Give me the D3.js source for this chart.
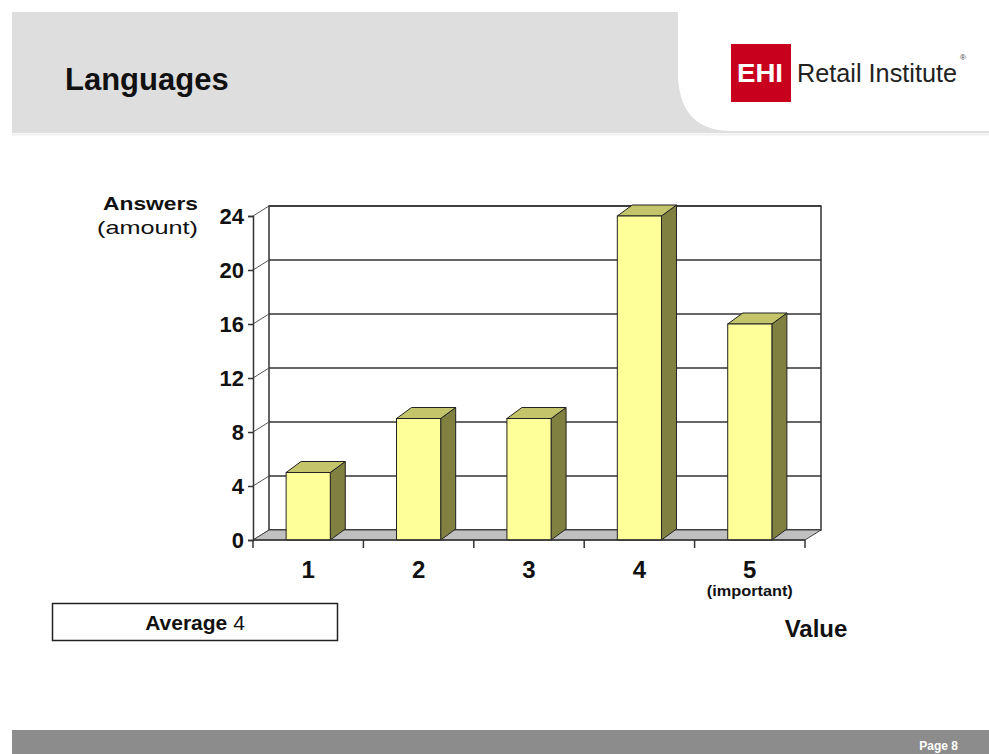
<!DOCTYPE html>
<html>
<head>
<meta charset="utf-8">
<script src="https://cdn.jsdelivr.net/npm/d3@7"></script>
<style>
    body { margin: 0; background: #fff; }
    svg { display: block; font-family: "Liberation Sans", Arial, sans-serif; }
</style>
</head>
<body>
<svg id="slide" width="989" height="754"></svg>
<script>
// chart data
var categories = ["1", "2", "3", "4", "5"]
var answers = [5, 9, 9, 24, 16]
var yTicks = [0, 4, 8, 12, 16, 20, 24]

var svg = d3.select("#slide")

// header band
svg.append("rect")
    .attr("x", 12).attr("y", 12)
    .attr("width", 977).attr("height", 121)
    .attr("fill", "#dedede")

svg.append("path")
    .attr("d", "M678,12 L678,78 Q681,131 732,131 L989,131 L989,12 Z")
    .attr("fill", "#fff")

svg.append("line")
    .attr("x1", 12).attr("x2", 989)
    .attr("y1", 134.5).attr("y2", 134.5)
    .attr("stroke", "#efefef")
    .attr("stroke-width", 2)

svg.append("text")
    .attr("x", 65).attr("y", 90)
    .style("font-size", "31px")
    .style("font-weight", "bold")
    .attr("fill", "#111")
    .text("Languages")

// logo
svg.append("rect")
    .attr("x", 731).attr("y", 44)
    .attr("width", 60).attr("height", 58)
    .attr("fill", "#c8001e")

svg.append("text")
    .attr("x", 760).attr("y", 82)
    .attr("text-anchor", "middle")
    .attr("textLength", 46)
    .attr("lengthAdjust", "spacingAndGlyphs")
    .style("font-size", "26px")
    .style("font-weight", "bold")
    .attr("fill", "#fff")
    .text("EHI")

svg.append("text")
    .attr("x", 797).attr("y", 82)
    .attr("textLength", 160)
    .attr("lengthAdjust", "spacingAndGlyphs")
    .style("font-size", "26px")
    .attr("fill", "#222")
    .text("Retail Institute")

svg.append("text")
    .attr("x", 960).attr("y", 60)
    .style("font-size", "8px")
    .attr("fill", "#444")
    .text("®")

// chart geometry
var x0 = 253, x1 = 805,
    depthX = 16, depthY = -10,
    barDX = 15, barDY = -11

var x = d3.scaleBand()
    .domain(categories)
    .range([x0, x1])
    .paddingInner(0.6)
    .paddingOuter(0.3)

var y = d3.scaleLinear()
    .domain([0, 24])
    .range([540, 216])

var chart = svg.append("g").attr("class", "chart")

// back wall
chart.append("rect")
    .attr("x", x0 + depthX).attr("y", y(24) + depthY)
    .attr("width", x1 - x0).attr("height", y(0) - y(24))
    .attr("fill", "#fff")
    .attr("stroke", "#333")
    .attr("stroke-width", 1.5)

// grid lines on the back wall and slanted ticks on the side
chart.selectAll(".grid")
    .data(yTicks)
    .enter().append("line")
    .attr("class", "grid")
    .attr("x1", x0 + depthX).attr("x2", x1 + depthX)
    .attr("y1", function(d) { return y(d) + depthY })
    .attr("y2", function(d) { return y(d) + depthY })
    .attr("stroke", "#333")
    .attr("stroke-width", 1.5)

chart.selectAll(".slant")
    .data(yTicks)
    .enter().append("line")
    .attr("class", "slant")
    .attr("x1", x0).attr("x2", x0 + depthX)
    .attr("y1", function(d) { return y(d) })
    .attr("y2", function(d) { return y(d) + depthY })
    .attr("stroke", "#555")
    .attr("stroke-width", 1)

// floor
chart.append("path")
    .attr("d", "M" + x0 + "," + y(0) + " L" + x1 + "," + y(0) +
        " L" + (x1 + depthX) + "," + (y(0) + depthY) +
        " L" + (x0 + depthX) + "," + (y(0) + depthY) + " Z")
    .attr("fill", "#c0c0c0")
    .attr("stroke", "#444")
    .attr("stroke-width", 1)

// bars: side, top, front
var bars = chart.selectAll(".bar")
    .data(answers)
    .enter().append("g")
    .attr("class", "bar")

bars.append("path")
    .attr("d", function(d, i) {
        var bx = x(categories[i]) + x.bandwidth(), top = y(d), base = y(0)
        return "M" + bx + "," + base + " L" + bx + "," + top +
            " L" + (bx + barDX) + "," + (top + barDY) +
            " L" + (bx + barDX) + "," + (base + barDY) + " Z"
    })
    .attr("fill", "#808040")
    .attr("stroke", "#222")
    .attr("stroke-width", 1)

bars.append("path")
    .attr("d", function(d, i) {
        var bx = x(categories[i]), w = x.bandwidth(), top = y(d)
        return "M" + bx + "," + top + " L" + (bx + w) + "," + top +
            " L" + (bx + w + barDX) + "," + (top + barDY) +
            " L" + (bx + barDX) + "," + (top + barDY) + " Z"
    })
    .attr("fill", "#c4c46a")
    .attr("stroke", "#222")
    .attr("stroke-width", 1)

bars.append("rect")
    .attr("x", function(d, i) { return x(categories[i]) })
    .attr("y", function(d) { return y(d) })
    .attr("width", x.bandwidth())
    .attr("height", function(d) { return y(0) - y(d) })
    .attr("fill", "#ffff99")
    .attr("stroke", "#222")
    .attr("stroke-width", 1)

// y axis on the front plane
var yAxis = chart.append("g")
    .attr("class", "axis")
    .attr("transform", "translate(" + x0 + ",0)")
    .call(d3.axisLeft(y).tickValues(yTicks).tickSize(5).tickPadding(4))

yAxis.select(".domain").attr("stroke", "#333").attr("stroke-width", 1.5)
yAxis.selectAll(".tick line").attr("stroke", "#333").attr("stroke-width", 1.5)
yAxis.selectAll(".tick text")
    .style("font-size", "22px")
    .style("font-weight", "bold")
    .style("font-family", "Liberation Sans, Arial, sans-serif")
    .attr("fill", "#111")

// x axis along the front edge of the floor
var xTicks = categories.map(function(c) { return x(c) - x.step() * x.paddingInner() / 2 })
xTicks.push(x1)

chart.selectAll(".xtick")
    .data(xTicks)
    .enter().append("line")
    .attr("class", "xtick")
    .attr("x1", function(d) { return d }).attr("x2", function(d) { return d })
    .attr("y1", y(0)).attr("y2", y(0) + 8)
    .attr("stroke", "#333")
    .attr("stroke-width", 1.5)

chart.append("line")
    .attr("x1", x0).attr("x2", x1)
    .attr("y1", y(0)).attr("y2", y(0))
    .attr("stroke", "#333")
    .attr("stroke-width", 1.5)

chart.selectAll(".xlabel")
    .data(categories)
    .enter().append("text")
    .attr("class", "xlabel")
    .attr("x", function(d) { return x(d) + x.bandwidth() / 2 })
    .attr("y", 578)
    .attr("text-anchor", "middle")
    .style("font-size", "24px")
    .style("font-weight", "bold")
    .attr("fill", "#111")
    .text(function(d) { return d })

chart.append("text")
    .attr("x", x(categories[4]) + x.bandwidth() / 2)
    .attr("y", 596)
    .attr("text-anchor", "middle")
    .attr("textLength", 86)
    .attr("lengthAdjust", "spacingAndGlyphs")
    .style("font-size", "14px")
    .style("font-weight", "bold")
    .attr("fill", "#111")
    .text("(important)")

// axis titles
svg.append("text")
    .attr("x", 103).attr("y", 210)
    .attr("textLength", 95)
    .attr("lengthAdjust", "spacingAndGlyphs")
    .style("font-size", "19px")
    .style("font-weight", "bold")
    .attr("fill", "#111")
    .text("Answers")

svg.append("text")
    .attr("x", 97).attr("y", 234)
    .attr("textLength", 101)
    .attr("lengthAdjust", "spacingAndGlyphs")
    .style("font-size", "19px")
    .attr("fill", "#111")
    .text("(amount)")

svg.append("text")
    .attr("x", 816).attr("y", 637)
    .attr("text-anchor", "middle")
    .style("font-size", "24px")
    .style("font-weight", "bold")
    .attr("fill", "#111")
    .text("Value")

// average box
svg.append("rect")
    .attr("x", 52.5).attr("y", 603.5)
    .attr("width", 285).attr("height", 37)
    .attr("fill", "#fff")
    .attr("stroke", "#222")
    .attr("stroke-width", 1.5)

var avg = svg.append("text")
    .attr("x", 195).attr("y", 630)
    .attr("text-anchor", "middle")
    .style("font-size", "21px")
    .attr("fill", "#111")
avg.append("tspan").style("font-weight", "bold").text("Average ")
avg.append("tspan").text("4")

// footer
svg.append("rect")
    .attr("x", 12).attr("y", 730)
    .attr("width", 977).attr("height", 24)
    .attr("fill", "#8c8c8c")

svg.append("text")
    .attr("x", 958).attr("y", 750)
    .attr("text-anchor", "end")
    .style("font-size", "12px")
    .style("font-weight", "bold")
    .attr("fill", "#fff")
    .text("Page 8")
</script>
</body>
</html>
